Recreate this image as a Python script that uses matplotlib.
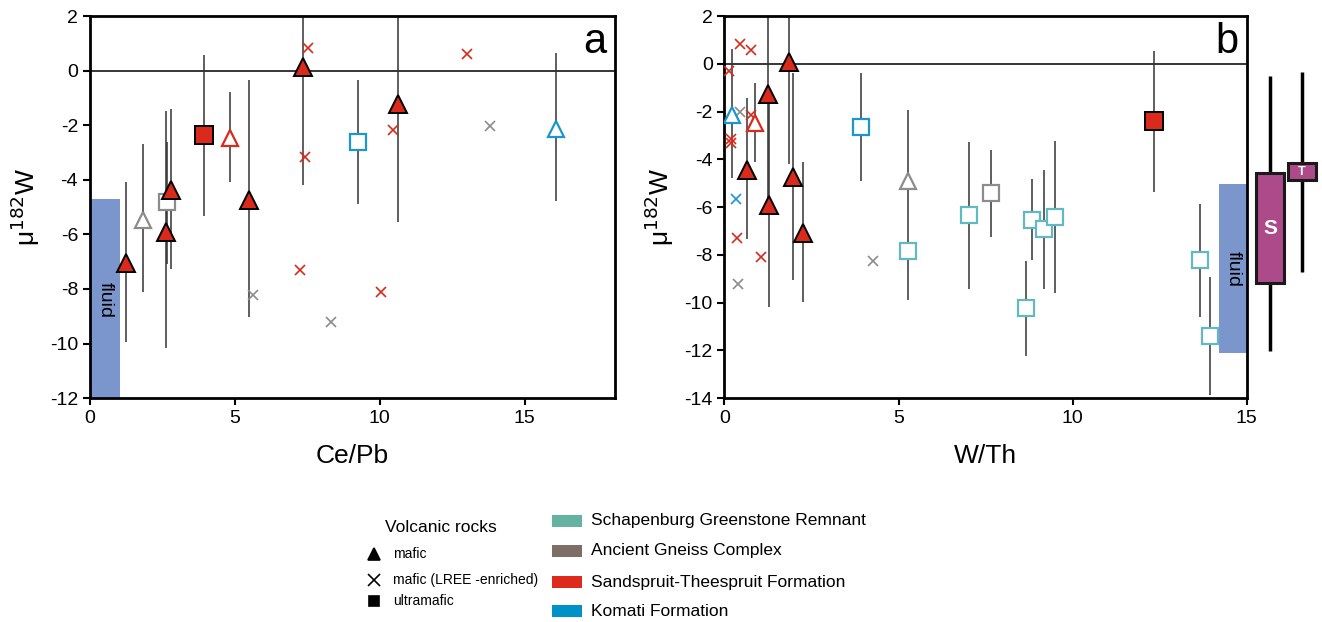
import numpy as np
import matplotlib
matplotlib.use('Agg')
import matplotlib.pyplot as plt

plt.rcParams['font.family'] = ['Liberation Sans', 'DejaVu Sans']
plt.rcParams['axes.unicode_minus'] = False

# colours
RED = '#d92a1c'
BLUE = '#1a96d0'
GRAY = '#8c8c8c'
TEAL = '#63b9c1'
FLUID = '#7b96cc'
MAGENTA = '#ad4a8a'
ERR = '#333333'

# ---------- panel a : Ce/Pb ----------
a_redtri_x = [1.26, 2.64, 2.78, 5.48, 7.34, 10.63]
a_redtri_y = [-7.06, -5.90, -4.38, -4.74, 0.13, -1.23]
a_redtri_hi = [-4.07, -1.49, -1.39, -0.33, 2.5, 2.5]
a_redtri_lo = [-9.96, -10.17, -7.28, -9.04, -4.20, -5.54]

a_redotri_x = [4.84]
a_redotri_y = [-2.45]
a_redotri_hi = [-0.78]
a_redotri_lo = [-4.07]

a_graytri_x = [1.83]
a_graytri_y = [-5.48]
a_graytri_hi = [-2.67]
a_graytri_lo = [-8.10]

a_graysq_x = [2.67]
a_graysq_y = [-4.83]
a_graysq_hi = [-2.60]
a_graysq_lo = [-7.10]

a_redsq_x = [3.94]
a_redsq_y = [-2.37]
a_redsq_hi = [0.56]
a_redsq_lo = [-5.33]

a_bluesq_x = [9.25]
a_bluesq_y = [-2.61]
a_bluesq_hi = [-0.35]
a_bluesq_lo = [-4.87]

a_bluetri_x = [16.09]
a_bluetri_y = [-2.12]
a_bluetri_hi = [0.66]
a_bluetri_lo = [-4.77]

a_redx_x = [7.53, 7.43, 7.25, 10.46, 10.03, 13.02]
a_redx_y = [0.83, -3.16, -7.30, -2.16, -8.12, 0.61]
a_grayx_x = [5.64, 8.33, 13.79]
a_grayx_y = [-8.22, -9.22, -2.04]

a_fluid_x = [0.0, 1.05]
a_fluid_y = [-12.0, -4.72]

# ---------- panel b : W/Th ----------
b_redtri_x = [0.65, 1.25, 1.29, 1.85, 1.96, 2.26]
b_redtri_y = [-4.45, -1.24, -5.91, 0.08, -4.72, -7.09]
b_redtri_hi = [-1.42, 2.5, -1.20, 2.5, -0.36, -4.10]
b_redtri_lo = [-7.33, -5.90, -10.19, -4.19, -9.05, -9.98]

b_redotri_x = [0.87]
b_redotri_y = [-2.49]
b_redotri_hi = [-0.79]
b_redotri_lo = [-4.10]

b_bluetri_x = [0.22]
b_bluetri_y = [-2.15]
b_bluetri_hi = [0.61]
b_bluetri_lo = [-4.79]

b_graytri_x = [5.26]
b_graytri_y = [-4.89]
b_graytri_hi = [-1.94]
b_graytri_lo = [-5.70]

b_bluesq_x = [3.92]
b_bluesq_y = [-2.63]
b_bluesq_hi = [-0.38]
b_bluesq_lo = [-4.91]

b_redsq_x = [12.35]
b_redsq_y = [-2.39]
b_redsq_hi = [0.52]
b_redsq_lo = [-5.36]

b_graysq_x = [7.65]
b_graysq_y = [-5.40]
b_graysq_hi = [-3.59]
b_graysq_lo = [-7.24]

b_tealsq_x = [5.26, 7.03, 8.84, 9.19, 9.50, 8.65, 13.66, 13.96]
b_tealsq_y = [-7.82, -6.33, -6.52, -6.93, -6.42, -10.21, -8.22, -11.39]
b_tealsq_hi = [-5.70, -3.26, -4.84, -4.45, -3.24, -8.24, -5.85, -8.94]
b_tealsq_lo = [-9.91, -9.41, -8.22, -9.41, -9.61, -12.22, -10.61, -13.89]

b_redx_x = [0.14, 0.44, 0.77, 0.75, 0.19, 0.19, 0.35, 1.05]
b_redx_y = [-0.28, 0.84, 0.57, -2.15, -3.16, -3.30, -7.30, -8.11]
b_grayx_x = [0.46, 0.38, 4.26]
b_grayx_y = [-2.03, -9.21, -8.24]
b_bluex_x = [0.33]
b_bluex_y = [-5.67]

b_fluid_x = [14.21, 15.0]
b_fluid_y = [-12.12, -5.05]

# S and T ranges (box + whiskers), drawn right of panel b
st_labels = ['S', 'T']
st_x = [15.67, 16.59]
st_width = [0.83, 0.83]
st_box_lo = [-9.19, -4.87]
st_box_hi = [-4.59, -4.17]
st_wh_lo = [-12.02, -8.73]
st_wh_hi = [-0.52, -0.34]

legend_groups = ['Schapenburg Greenstone Remnant', 'Ancient Gneiss Complex',
                 'Sandspruit-Theespruit Formation', 'Komati Formation']
legend_colors = ['#63b3a0', '#7d6f68', '#dc2b1c', '#0091c9']
legend_rocks = ['mafic', 'mafic (LREE -enriched)', 'ultramafic']
legend_marks = ['^', 'x', 's']


def pts(ax, x, y, hi, lo, marker, color, filled, ms):
    ax.vlines(x, lo, hi, color=ERR, lw=1.1, zorder=2)
    if filled:
        ax.plot(x, y, marker, ms=ms, mfc=color, mec='black', mew=1.4, ls='none', zorder=4)
    else:
        ax.plot(x, y, marker, ms=ms, mfc='white', mec=color, mew=1.6, ls='none', zorder=4)


def style(ax, xlim, ylim, yticks, xlabel, letter):
    ax.set_xlim(*xlim)
    ax.set_ylim(*ylim)
    ax.set_xticks([0, 5, 10, 15])
    ax.set_yticks(yticks)
    ax.axhline(0, color='black', lw=1.1, zorder=1)
    for s in ax.spines.values():
        s.set_linewidth(2)
    ax.tick_params(labelsize=14, width=1.5, length=5, direction='out')
    ax.set_xlabel(xlabel, fontsize=19, labelpad=12)
    ax.set_ylabel('μ$^{182}$W', fontsize=19, labelpad=6)
    ax.text(0.985, 0.985, letter, transform=ax.transAxes, ha='right', va='top', fontsize=30)


fig = plt.figure(figsize=(13.22, 6.22), dpi=100)
ax1 = fig.add_axes([0.068, 0.360, 0.397, 0.614])
ax2 = fig.add_axes([0.548, 0.360, 0.395, 0.614])

# panel a
ax1.bar(a_fluid_x[0], a_fluid_y[1] - a_fluid_y[0], width=a_fluid_x[1] - a_fluid_x[0],
        bottom=a_fluid_y[0], align='edge', color=FLUID, zorder=0)
ax1.text(np.mean(a_fluid_x), -8.4, 'fluid', rotation=-90, ha='center', va='center', fontsize=14)
pts(ax1, a_graytri_x, a_graytri_y, a_graytri_hi, a_graytri_lo, '^', GRAY, False, 12)
pts(ax1, a_graysq_x, a_graysq_y, a_graysq_hi, a_graysq_lo, 's', GRAY, False, 12)
pts(ax1, a_redsq_x, a_redsq_y, a_redsq_hi, a_redsq_lo, 's', RED, True, 13)
pts(ax1, a_redotri_x, a_redotri_y, a_redotri_hi, a_redotri_lo, '^', RED, False, 12)
pts(ax1, a_bluesq_x, a_bluesq_y, a_bluesq_hi, a_bluesq_lo, 's', BLUE, False, 12)
pts(ax1, a_bluetri_x, a_bluetri_y, a_bluetri_hi, a_bluetri_lo, '^', BLUE, False, 12)
pts(ax1, a_redtri_x, a_redtri_y, a_redtri_hi, a_redtri_lo, '^', RED, True, 12.5)
ax1.plot(a_redx_x, a_redx_y, 'x', color=RED, ms=7, mew=1.2, ls='none', zorder=3)
ax1.plot(a_grayx_x, a_grayx_y, 'x', color=GRAY, ms=7, mew=1.2, ls='none', zorder=3)
style(ax1, (0, 18.1), (-12, 2), np.arange(-12, 3, 2), 'Ce/Pb', 'a')

# panel b
ax2.bar(b_fluid_x[0], b_fluid_y[1] - b_fluid_y[0], width=b_fluid_x[1] - b_fluid_x[0],
        bottom=b_fluid_y[0], align='edge', color=FLUID, zorder=0)
ax2.text(np.mean(b_fluid_x), -8.6, 'fluid', rotation=-90, ha='center', va='center', fontsize=14)
pts(ax2, b_tealsq_x, b_tealsq_y, b_tealsq_hi, b_tealsq_lo, 's', TEAL, False, 12)
pts(ax2, b_graytri_x, b_graytri_y, b_graytri_hi, b_graytri_lo, '^', GRAY, False, 12)
pts(ax2, b_graysq_x, b_graysq_y, b_graysq_hi, b_graysq_lo, 's', GRAY, False, 12)
pts(ax2, b_bluesq_x, b_bluesq_y, b_bluesq_hi, b_bluesq_lo, 's', BLUE, False, 12)
pts(ax2, b_redsq_x, b_redsq_y, b_redsq_hi, b_redsq_lo, 's', RED, True, 13)
ax2.plot(b_redx_x, b_redx_y, 'x', color=RED, ms=7, mew=1.2, ls='none', zorder=3)
ax2.plot(b_grayx_x, b_grayx_y, 'x', color=GRAY, ms=7, mew=1.2, ls='none', zorder=3)
ax2.plot(b_bluex_x, b_bluex_y, 'x', color=BLUE, ms=7, mew=1.2, ls='none', zorder=3)
pts(ax2, b_bluetri_x, b_bluetri_y, b_bluetri_hi, b_bluetri_lo, '^', BLUE, False, 12)
pts(ax2, b_redotri_x, b_redotri_y, b_redotri_hi, b_redotri_lo, '^', RED, False, 12)
pts(ax2, b_redtri_x, b_redtri_y, b_redtri_hi, b_redtri_lo, '^', RED, True, 12.5)
style(ax2, (0, 15), (-14, 2), np.arange(-14, 3, 2), 'W/Th', 'b')

# S / T boxes outside the axes
ax2.vlines(st_x, st_wh_lo, st_wh_hi, color='black', lw=2.5, clip_on=False, zorder=1)
ax2.bar(st_x, np.array(st_box_hi) - np.array(st_box_lo), width=st_width, bottom=st_box_lo,
        color=MAGENTA, edgecolor='#1a1a1a', lw=2.2, clip_on=False, zorder=2)
ax2.text(st_x[0], (st_box_lo[0] + st_box_hi[0]) / 2, st_labels[0], color='white',
         fontweight='bold', fontsize=15, ha='center', va='center')
ax2.text(st_x[1], (st_box_lo[1] + st_box_hi[1]) / 2, st_labels[1], color='white',
         fontweight='bold', fontsize=9, ha='center', va='center')

# legend, in figure pixels
lax = fig.add_axes([0, 0, 1, 1], zorder=-1)
lax.set_xlim(0, 1322)
lax.set_ylim(622, 0)
lax.axis('off')
lax.text(385, 527, 'Volcanic rocks', fontsize=12.5, va='center')
for i, (lab, mk) in enumerate(zip(legend_rocks, legend_marks)):
    yy = [554, 580, 601][i]
    lax.plot(374, yy, mk, color='black', ms=[8, 8, 6.5][i], mew=1.2)
    lax.text(393, yy, lab, fontsize=10, va='center')
for i, (lab, col) in enumerate(zip(legend_groups, legend_colors)):
    yy = [521, 551, 582, 611][i]
    lax.bar(552, 12, width=30, bottom=yy - 6, align='edge', color=col)
    lax.text(591, yy, lab, fontsize=12.5, va='center')

fig.savefig('out.png', dpi=100)
